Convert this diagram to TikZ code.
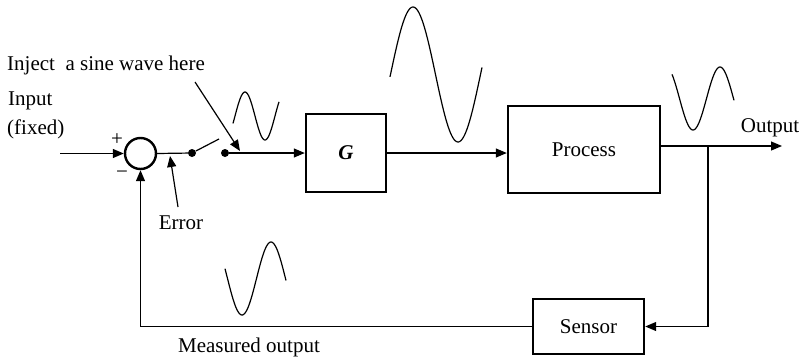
\documentclass[tikz,border=0pt]{standalone}
\usepackage{fontspec}
\setmainfont{Liberation Serif}
\usetikzlibrary{arrows.meta}
\begin{document}
\begin{tikzpicture}[x=1pt,y=-1pt,font=\fontsize{21}{25}\selectfont,
  blk/.style={draw,line width=2.4pt,inner sep=0pt},
  wire/.style={line width=1.2pt},
  arr/.style={wire,-{Triangle[length=11pt,width=9pt]}},
  wave/.style={line width=1.2pt},
  dot/.style={circle,fill,inner sep=0pt,minimum size=8pt},
  lbl/.style={inner sep=0pt}]
\useasboundingbox (0,0) rectangle (802,359);
% blocks
\node[circle,draw,line width=2.4pt,minimum size=31pt,inner sep=0pt] (sum) at (140.5,153.5) {};
\node[blk,minimum width=80pt,minimum height=78pt] (G) at (346,153) {\textbf{\textit{G}}};
\node[blk,minimum width=152pt,minimum height=87pt] (P) at (584,149.5) {Process};
\node[blk,minimum width=111pt,minimum height=55pt] (S) at (588.5,326.5) {Sensor};
\node[dot] (d1) at (192,153) {};
\node[dot] (d2) at (225,153) {};
% coordinates
\coordinate (in) at (60,153.5);
\coordinate (sw) at (219,139);
\coordinate (br) at (708,146);
\coordinate (out) at (782,146);
\coordinate (errtip) at (170,156);
\coordinate (errtail) at (178,207);
\coordinate (injtail) at (195,82);
\coordinate (injtip) at (240,151);
% labels
\node[lbl,anchor=west] (inj) at (7,65) {Inject\ \ a sine wave here};
\node[lbl,anchor=west] (inp1) at (8,101) {Input};
\node[lbl,anchor=west] (inp2) at (7,129) {(fixed)};
\node[lbl] (plus) at (117,140) {+};
\node[lbl] (minus) at (122,175) {−};
\node[lbl] (err) at (181,223) {Error};
\node[lbl] (outl) at (770,128) {Output};
\node[lbl] (meas) at (249,347) {Measured output};
% connectors
\draw[arr] (in) -- (sum.west);
\draw[wire] (sum.east) -- (d1);
\draw[wire] (d1) -- (sw);
\draw[arr] (d2) -- (G.west);
\draw[arr] (G.east) -- (G.east -| P.west);
\draw[arr] (P.east |- br) -- (out);
\draw[arr] (br) -- (br |- S.east) -- (S.east);
\draw[arr] (S.west) -| (sum.south);
\draw[arr] (errtail) -- (errtip);
\draw[arr] (injtail) -- (injtip);
% waves
\draw[wave] plot[domain=233:279,samples=60,variable=\x] ({\x},{116-24*cos(180*(\x-245)/20)});
\draw[wave] plot[domain=390:482,samples=80,variable=\x] ({\x},{74.5-67.5*cos(180*(\x-413)/45)});
\draw[wave] plot[domain=672:734,samples=60,variable=\x] ({\x},{98.5+31.5*cos(180*(\x-693)/27)});
\draw[wave] plot[domain=225:286,samples=60,variable=\x] ({\x},{278.5+36.5*cos(180*(\x-242)/29)});
\end{tikzpicture}
\end{document}
